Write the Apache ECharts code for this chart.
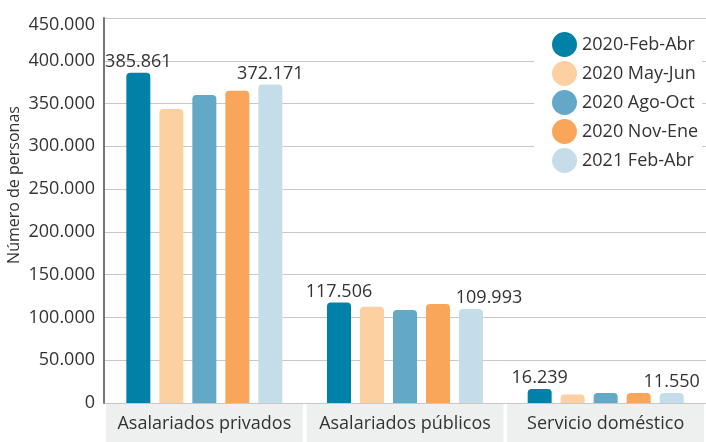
<!DOCTYPE html>
<html>
<head>
<meta charset="utf-8">
<script src="https://cdn.jsdelivr.net/npm/echarts@6/dist/echarts.min.js"></script>
<style>
  html, body { margin: 0; padding: 0; background: #fff; }
  #chart { width: 706px; height: 442px; }
</style>
</head>
<body>
<div id="chart"></div>
<script>
// datos
var categorias = ['Asalariados privados', 'Asalariados públicos', 'Servicio doméstico'];
var periodos = ['2020-Feb-Abr', '2020 May-Jun', '2020 Ago-Oct', '2020 Nov-Ene', '2021 Feb-Abr'];
var feb2020 = [385861, 117506, 16239];
var mayJun2020 = [343500, 112500, 10000];
var agoOct2020 = [360000, 108800, 11800];
var novEne2020 = [365000, 115800, 11700];
var feb2021 = [372171, 109993, 11550];
var colores = ['#0081a7', '#fdd0a2', '#63a8c7', '#f9a55a', '#c5dde9'];
var tituloY = 'Número de personas';

var valores = [feb2020, mayJun2020, agoOct2020, novEne2020, feb2021];
var fuente = 'Open Sans';
var yMax = 450000;

function miles(v) {
  return String(v).replace(/\B(?=(\d{3})+(?!\d))/g, '.');
}

var myChart = echarts.init(document.getElementById('chart'));

var series = periodos.map(function (p, i) {
  var conEtiqueta = (i === 0 || i === periodos.length - 1);
  var data = valores[i].map(function (v, j) {
    // en el original la etiqueta 109.993 queda corrida a la derecha
    if (i === periodos.length - 1 && j === 1) {
      return { value: v, label: { offset: [18, 0] } };
    }
    return v;
  });
  return {
    name: p,
    type: 'bar',
    data: data,
    barWidth: 24,
    barGap: '37.5%',
    itemStyle: { color: colores[i], borderRadius: [4, 4, 0, 0] },
    label: {
      show: conEtiqueta,
      position: 'top',
      distance: 2,
      color: '#333',
      fontSize: 18,
      fontFamily: fuente,
      formatter: function (d) { return miles(d.value); }
    }
  };
});

myChart.setOption({
  animation: false,
  textStyle: { fontFamily: fuente },
  grid: { left: 104, right: 0, top: 18, bottom: 39, containLabel: false, outerBoundsMode: 'none' },
  graphic: [{
    type: 'text',
    x: 14,
    y: 185,
    rotation: Math.PI / 2,
    style: {
      text: tituloY,
      fontSize: 16,
      fontFamily: fuente,
      fill: '#333',
      align: 'center',
      verticalAlign: 'middle'
    }
  }],
  legend: {
    orient: 'vertical',
    left: 534,
    top: 30,
    icon: 'circle',
    itemWidth: 25,
    itemHeight: 25,
    itemGap: 4,
    padding: [2, 4, 2, 18],
    backgroundColor: '#fff',
    textStyle: { fontSize: 18, color: '#333', fontFamily: fuente },
    data: periodos
  },
  xAxis: {
    type: 'category',
    data: categorias,
    axisLine: { show: false },
    axisTick: { show: false },
    axisLabel: {
      margin: 1,
      interval: 0,
      width: 197,
      height: 38,
      lineHeight: 40,
      align: 'center',
      backgroundColor: '#eef0ef',
      color: '#333',
      fontSize: 18,
      fontFamily: fuente
    }
  },
  yAxis: {
    type: 'value',
    min: 0,
    max: yMax,
    interval: 50000,
    axisLine: { show: true, lineStyle: { color: '#777', width: 2 } },
    axisTick: { show: false },
    axisLabel: {
      color: '#333',
      fontSize: 18,
      margin: 9,
      fontFamily: fuente,
      formatter: function (v) {
        return v === yMax ? '{t|' + miles(v) + '}' : miles(v);
      },
      rich: {
        t: { padding: [14, 0, 0, 0], fontSize: 18, color: '#333', fontFamily: fuente }
      }
    },
    splitLine: { lineStyle: { color: '#c8c8c8', width: 1 } }
  },
  series: series
});
</script>
</body>
</html>
